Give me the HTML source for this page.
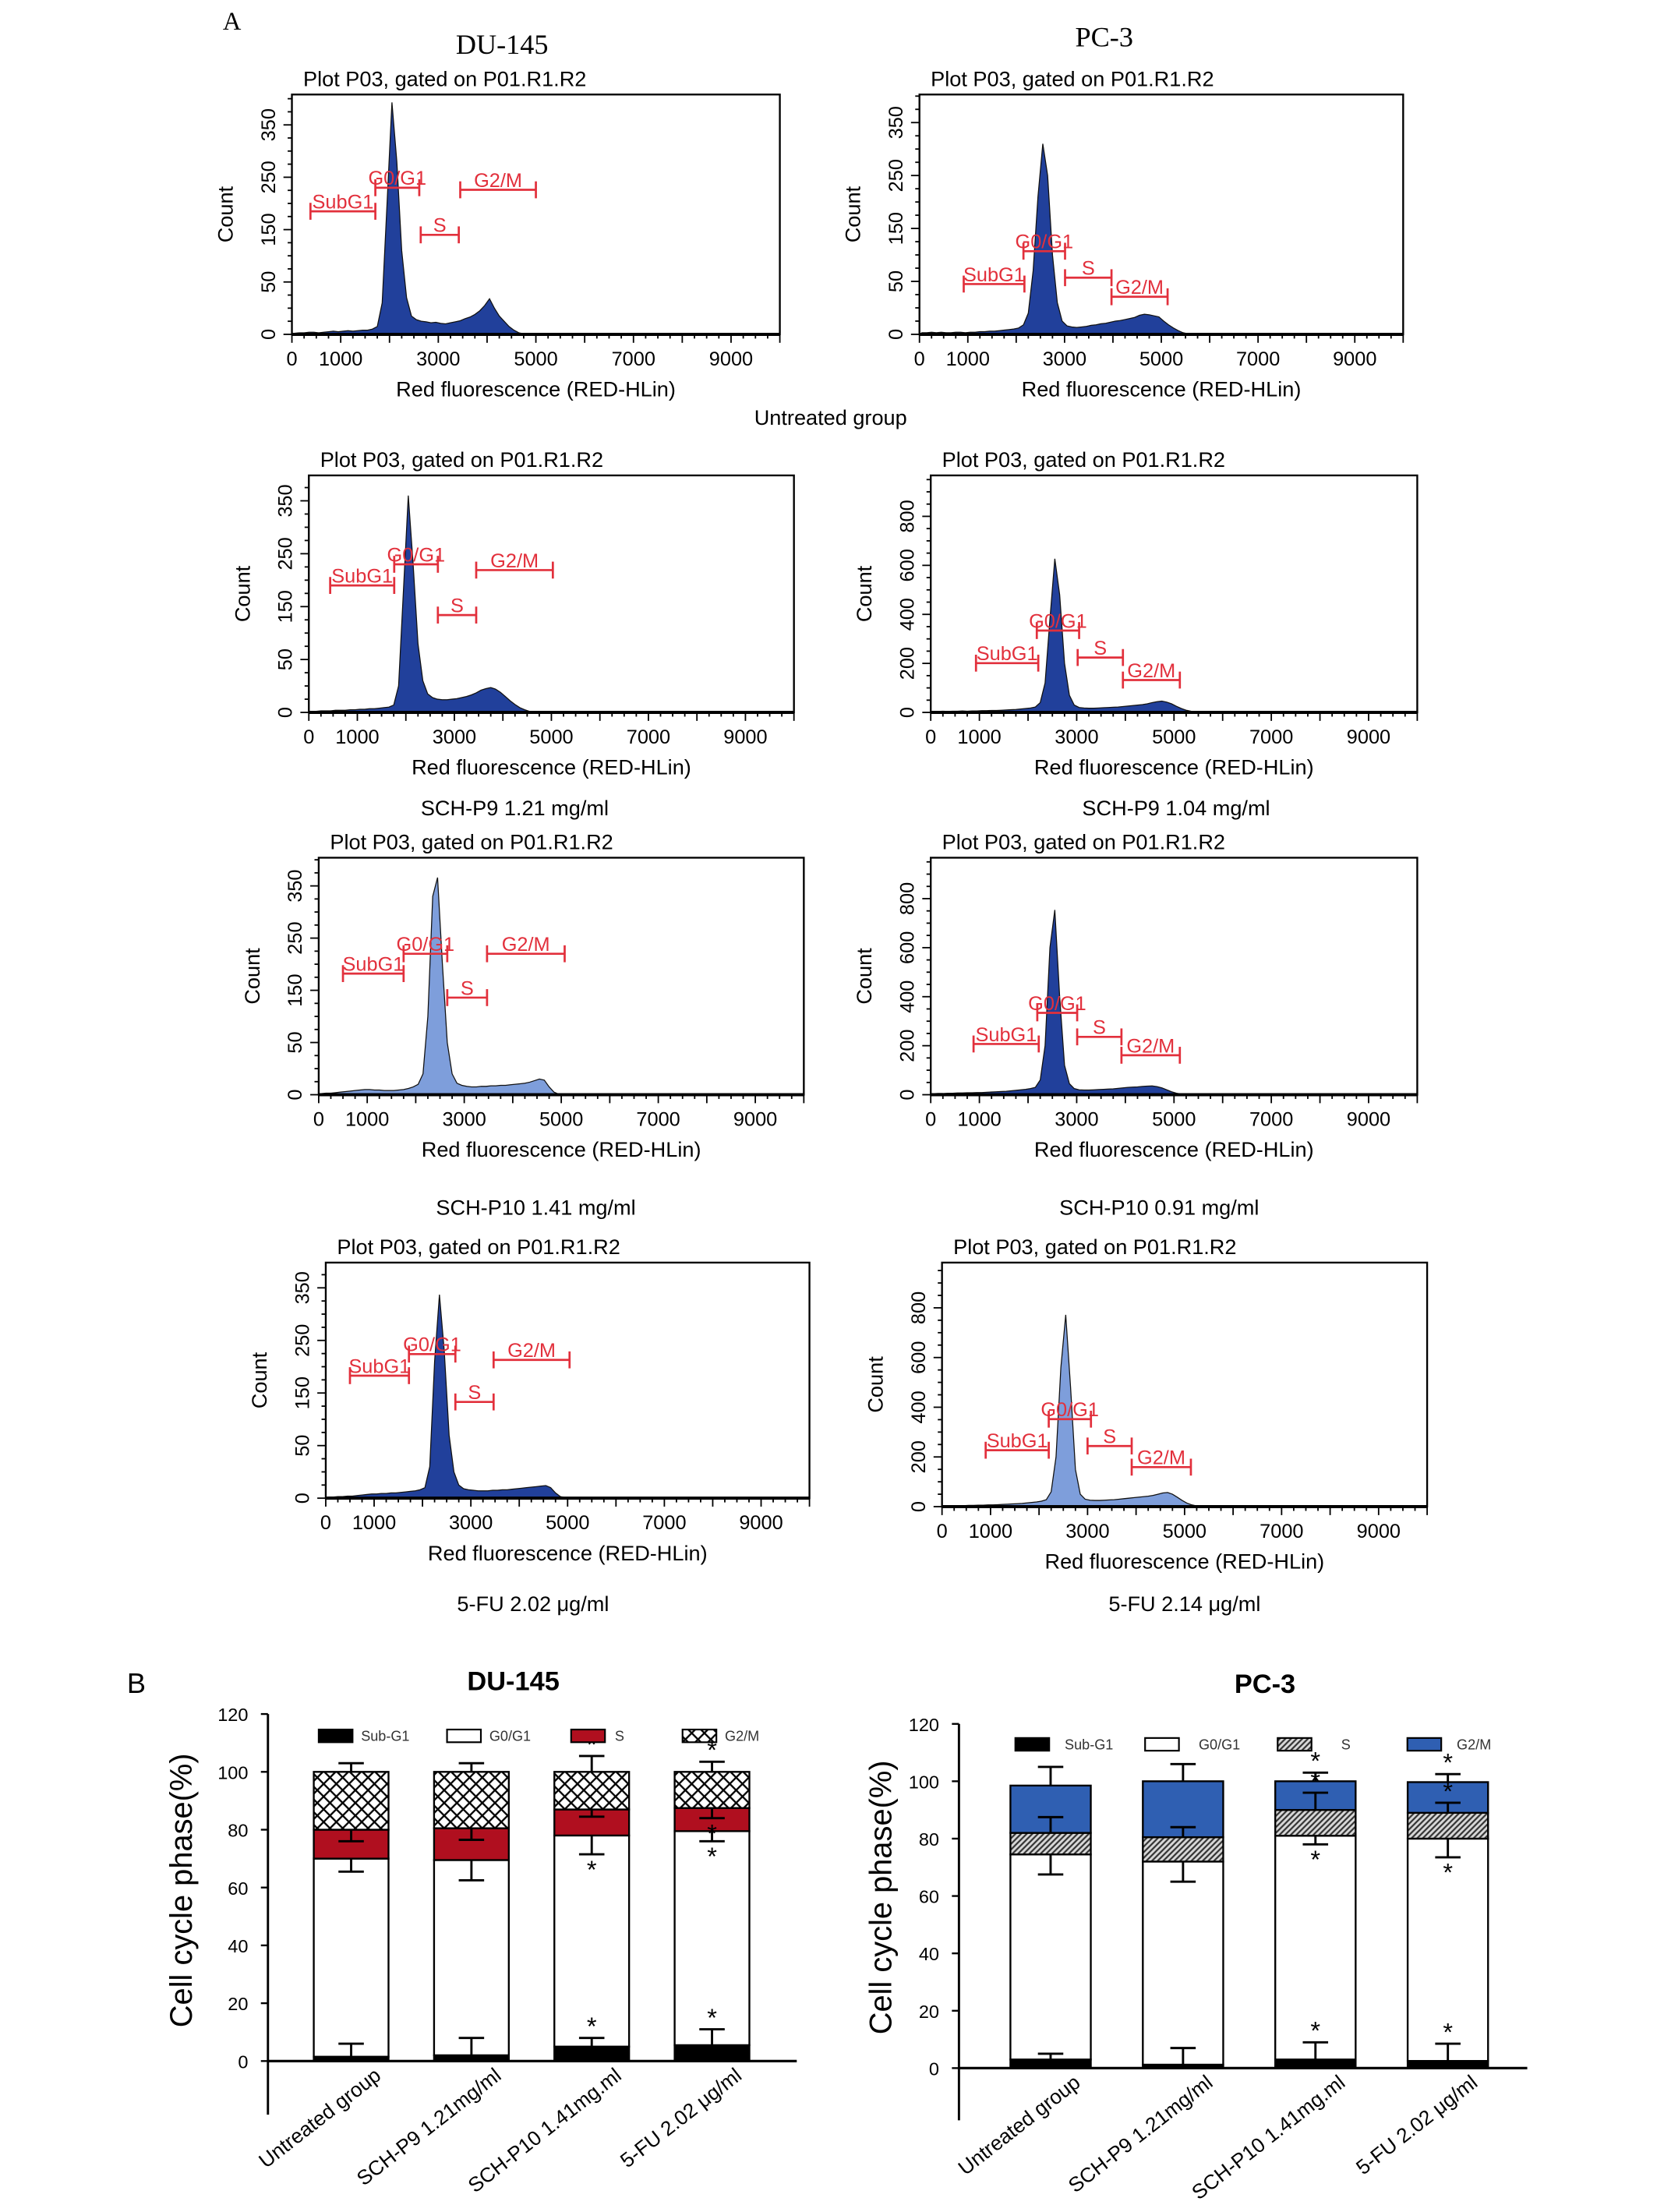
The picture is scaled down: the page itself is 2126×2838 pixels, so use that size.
<!DOCTYPE html>
<html><head><meta charset="utf-8"><style>
html,body{margin:0;padding:0;background:#fff;}
svg{display:block;}
text{font-family:"Liberation Sans",sans-serif;}
</style></head><body>
<svg id="fig" xmlns="http://www.w3.org/2000/svg" width="2126" height="2838" viewBox="0 0 1175 1568" preserveAspectRatio="none">
<defs>
<pattern id="xhatch" patternUnits="userSpaceOnUse" width="9" height="9"><rect width="9" height="9" fill="#fff"/><path d="M0,0L9,9M9,0L0,9" stroke="#000" stroke-width="1.3"/></pattern>
<pattern id="dhatch" patternUnits="userSpaceOnUse" width="4" height="4"><rect width="4" height="4" fill="#d8d8d8"/><path d="M-1,5L5,-1M-1,1L1,-1M3,5L5,3" stroke="#333" stroke-width="1.2"/></pattern>
</defs>
<text x="158" y="21" font-size="18" style="font-family:'Liberation Serif',serif">A</text>
<text x="356" y="38" text-anchor="middle" font-size="20" style="font-family:'Liberation Serif',serif">DU-145</text>
<text x="783" y="33" text-anchor="middle" font-size="20" style="font-family:'Liberation Serif',serif">PC-3</text>
<text x="589" y="301" text-anchor="middle" font-size="15">Untreated group</text>
<text x="365" y="578" text-anchor="middle" font-size="15">SCH-P9 1.21 mg/ml</text>
<text x="834" y="578" text-anchor="middle" font-size="15">SCH-P9 1.04 mg/ml</text>
<text x="380" y="861" text-anchor="middle" font-size="15">SCH-P10 1.41 mg/ml</text>
<text x="822" y="861" text-anchor="middle" font-size="15">SCH-P10 0.91 mg/ml</text>
<text x="378" y="1142" text-anchor="middle" font-size="15">5-FU 2.02 μg/ml</text>
<text x="840" y="1142" text-anchor="middle" font-size="15">5-FU 2.14 μg/ml</text>
<text x="90" y="1200" font-size="20">B</text>
<text x="364" y="1198" text-anchor="middle" font-size="19" font-weight="bold">DU-145</text>
<text x="897" y="1200" text-anchor="middle" font-size="19" font-weight="bold">PC-3</text>
</svg>
<script>
// ---- Histogram data (counts per 100-unit bin, 0..5900) ----
const histDU0 = [2,3,3,4,4,3,4,5,6,5,6,7,6,7,8,8,10,15,60,250,443,330,160,70,35,28,25,24,22,23,21,20,22,24,26,30,33,38,45,55,68,50,35,25,15,8,3,1,0,0,0,0,0,0,0,0,0,0,0,0];
const histPC0 = [3,3,4,3,4,3,3,4,4,3,4,4,5,5,6,6,7,8,9,10,12,18,40,120,260,360,300,150,60,25,16,14,13,14,15,17,18,20,21,23,25,26,28,30,32,36,38,37,35,33,25,18,12,7,3,1,0,0,0,0];
const histDU1 = [2,2,3,3,3,4,4,4,5,5,6,6,7,7,8,9,10,14,50,230,410,280,130,60,35,28,25,24,24,25,26,28,30,33,37,42,45,47,44,38,30,22,15,9,5,2,1,0,0,0,0,0,0,0,0,0,0,0,0,0];
const histPC1 = [4,4,5,4,5,5,6,5,6,6,7,7,8,8,9,10,11,12,14,16,18,22,40,120,380,627,480,200,70,30,20,18,17,17,18,19,20,21,22,24,26,28,30,32,35,40,44,46,42,35,25,16,9,5,2,1,0,0,0,0];
const histDU2 = [2,3,3,4,5,6,7,8,9,10,10,9,9,8,8,8,9,10,12,15,20,40,150,380,416,250,100,40,22,18,16,15,15,16,16,17,17,18,18,19,20,21,22,24,27,30,28,15,5,1,0,0,0,0,0,0,0,0,0,0];
const histPC2 = [4,5,5,6,6,7,7,8,8,9,9,10,11,12,13,14,16,18,20,22,25,30,60,200,600,754,400,120,45,25,20,19,19,20,21,22,23,24,26,28,30,31,32,34,35,36,33,28,20,12,6,3,1,0,0,0,0,0,0,0];
const histDU3 = [2,2,3,3,4,4,5,6,7,8,8,9,9,10,10,11,12,13,14,16,20,60,260,387,280,120,50,25,18,16,15,14,14,14,15,15,16,16,17,18,19,20,21,22,23,24,20,10,3,1,0,0,0,0,0,0,0,0,0,0];
const histPC3 = [3,3,4,4,4,5,5,6,6,7,7,8,9,10,11,12,13,15,17,19,22,28,60,200,560,772,480,150,50,30,26,25,25,26,27,28,30,32,34,36,38,40,42,45,50,55,57,50,38,25,14,7,3,0,0,0,0,0,0,0];
// ---- Gates: [label, start, end, level] ----
const gatesDU0 = [["SubG1",380,1710,235],["G0/G1",1710,2610,280],["S",2640,3420,190],["G2/M",3450,5000,276]];
const gatesPC0 = [["SubG1",915,2170,95],["G0/G1",2150,3010,157],["S",3010,3970,107],["G2/M",3970,5130,71]];
const gatesDU1 = [["SubG1",440,1760,240],["G0/G1",1760,2660,280],["S",2660,3450,184],["G2/M",3450,5030,269]];
const gatesPC1 = [["SubG1",930,2210,201],["G0/G1",2180,3050,334],["S",3020,3950,224],["G2/M",3950,5120,132]];
const gatesDU2 = [["SubG1",500,1750,232],["G0/G1",1750,2650,270],["S",2650,3470,186],["G2/M",3470,5070,270]];
const gatesPC2 = [["SubG1",880,2220,207],["G0/G1",2190,3010,334],["S",3010,3920,236],["G2/M",3920,5120,161]];
const gatesDU3 = [["SubG1",500,1720,233],["G0/G1",1720,2680,274],["S",2680,3470,183],["G2/M",3470,5040,263]];
const gatesPC3 = [["SubG1",900,2200,227],["G0/G1",2200,3070,352],["S",3000,3910,244],["G2/M",3910,5130,159]];
// ---- Axis ticks ----
const xTickVals = [0,1000,3000,5000,7000,9000];
const xTickLabels = ["0","1000","3000","5000","7000","9000"];
const yTickValsDU = [0,100,200,300,400];
const yTickLabelsDU = ["0","50","150","250","350"];
const yTickValsPC = [0,200,400,600,800];
const yTickLabelsPC = ["0","200","400","600","800"];

// ---- Bar chart data ----
const barCategories = ["Untreated group","SCH-P9 1.21mg/ml","SCH-P10 1.41mg.ml","5-FU 2.02 μg/ml"];
const barTicks = [0,20,40,60,80,100,120];
const duSub = [1.5,2,5,5.5];
const duG0 = [68.5,67.5,73,74];
const duS = [10,11,9,8];
const duG2 = [20,19.5,13,12.5];
const duErrSub = [4.5,6,3,5.5];
const duErrG0 = [4.5,7,6.5,3.5];
const duErrS = [4,4,2.5,3.5];
const duErrG2 = [3,3,5.5,3.5];
const duStarSub = [0,0,1,1];
const duStarG0 = [0,0,1,1];
const duStarS = [0,0,0,1];
const duStarG2 = [0,0,1,1];
const pcSub = [3,1.2,3,2.5];
const pcG0 = [71.5,70.8,78,77.5];
const pcS = [7.5,8.5,9,9];
const pcG2 = [16.5,19.5,10,10.7];
const pcErrSub = [2,5.8,6,6];
const pcErrG0 = [7,7,3,6.5];
const pcErrS = [5.5,3.5,6,3.5];
const pcErrG2 = [6.5,6,3,2.8];
const pcStarSub = [0,0,1,1];
const pcStarG0 = [0,0,1,1];
const pcStarS = [0,0,1,1];
const pcStarG2 = [0,0,1,1];

const NS = "http://www.w3.org/2000/svg";
const svg = document.getElementById('fig');
function mk(tag, attrs, parent){
  const e = document.createElementNS(NS, tag);
  for (const k in attrs) e.setAttribute(k, attrs[k]);
  (parent||svg).appendChild(e);
  return e;
}

function drawHist(name, box, ymax, data, gates, yVals, yLabels, light){
  const g = mk('g', {});
  
  
  const sx = v => box.x + v / 10000 * box.w;
  const sy = v => box.y + box.h - v / ymax * box.h;
  const y0 = box.y + box.h;
  const t = mk('text', {x: box.x + 8, y: box.y - 6, 'font-size': 15}, g);
  t.textContent = 'Plot P03, gated on P01.R1.R2';
  
  
  let d = 'M' + sx(0) + ',' + y0;
  for (let i = 0; i < data.length; i++) {
    d += ' L' + sx(i * 100 + 50).toFixed(2) + ',' + sy(data[i]).toFixed(2);
  }
  d += ' L' + sx(data.length * 100) + ',' + y0 + ' Z';
  const p = mk('path', {d: d, fill: light ? '#7e9edb' : '#21409b', stroke: '#111', 'stroke-width': 0.7}, g);
  
  
  const r = mk('rect', {x: box.x, y: box.y, width: box.w, height: box.h, fill: 'none', stroke: '#000', 'stroke-width': 1.3}, g);
  
  
  const ax = mk('line', {x1: box.x, y1: y0, x2: box.x + box.w, y2: y0, stroke: '#000', 'stroke-width': 2.2}, g);
  
  
  for (let v = 0; v <= 10000; v += 250) {
    const big = v % 1000 === 0;
    mk('line', {x1: sx(v), y1: y0, x2: sx(v), y2: y0 + (big ? 6 : 3), stroke: '#000', 'stroke-width': 1}, g);
  }
  xTickVals.forEach((v, i) => {
    const tx = mk('text', {x: sx(v), y: y0 + 22, 'font-size': 14, 'text-anchor': 'middle'}, g);
    tx.textContent = xTickLabels[i];
    
    
  });
  const xt = mk('text', {x: box.x + box.w / 2, y: y0 + 44, 'font-size': 15, 'text-anchor': 'middle'}, g);
  xt.textContent = 'Red fluorescence (RED-HLin)';
  
  
  const step = yVals[1] - yVals[0];
  for (let v = 0; v <= ymax; v += step / 4) {
    const big = Math.abs(v % step) < 1e-6;
    mk('line', {x1: box.x, y1: sy(v), x2: box.x - (big ? 6 : 3), y2: sy(v), stroke: '#000', 'stroke-width': 1}, g);
  }
  yVals.forEach((v, i) => {
    const ty = mk('text', {x: 0, y: 0, 'font-size': 14, 'text-anchor': 'middle', transform: 'translate(' + (box.x - 12) + ',' + sy(v) + ') rotate(-90)'}, g);
    ty.textContent = yLabels[i];
    
    
  });
  const yt = mk('text', {x: 0, y: 0, 'font-size': 15, 'text-anchor': 'middle', transform: 'translate(' + (box.x - 42) + ',' + (box.y + box.h / 2) + ') rotate(-90)'}, g);
  yt.textContent = 'Count';
  
  
  gates.forEach(gt => {
    const gy = sy(gt[3]), x1 = sx(gt[1]), x2 = sx(gt[2]);
    const gg = mk('g', {stroke: '#e2303c', 'stroke-width': 1.5}, g);
    
    
    mk('line', {x1: x1, y1: gy, x2: x2, y2: gy}, gg);
    mk('line', {x1: x1, y1: gy - 6, x2: x1, y2: gy + 6}, gg);
    mk('line', {x1: x2, y1: gy - 6, x2: x2, y2: gy + 6}, gg);
    const lt = mk('text', {x: (x1 + x2) / 2, y: gy - 2, 'font-size': 14, 'text-anchor': 'middle', fill: '#e2303c', stroke: 'none'}, gg);
    lt.textContent = gt[0];
    
    
  });
}

drawHist('hist-du145-untreated', {x:207,y:67,w:346,h:170}, 458, histDU0, gatesDU0, yTickValsDU, yTickLabelsDU, false);
drawHist('hist-pc3-untreated', {x:652,y:67,w:343,h:170}, 453, histPC0, gatesPC0, yTickValsDU, yTickLabelsDU, false);
drawHist('hist-du145-schp9', {x:219,y:337,w:344,h:168}, 448, histDU1, gatesDU1, yTickValsDU, yTickLabelsDU, false);
drawHist('hist-pc3-schp9', {x:660,y:337,w:345,h:168}, 967, histPC1, gatesPC1, yTickValsPC, yTickLabelsPC, false);
drawHist('hist-du145-schp10', {x:226,y:608,w:344,h:168}, 454, histDU2, gatesDU2, yTickValsDU, yTickLabelsDU, true);
drawHist('hist-pc3-schp10', {x:660,y:608,w:345,h:168}, 967, histPC2, gatesPC2, yTickValsPC, yTickLabelsPC, false);
drawHist('hist-du145-5fu', {x:231,y:895,w:343,h:167}, 448, histDU3, gatesDU3, yTickValsDU, yTickLabelsDU, false);
drawHist('hist-pc3-5fu', {x:668,y:895,w:344,h:173}, 982, histPC3, gatesPC3, yTickValsPC, yTickLabelsPC, true);

function drawBars(name, c, sub, g0, s, g2, eSub, eG0, eS, eG2, stSub, stG0, stS, stG2, sDir, sFill, g2Fill, legend){
  const g = mk('g', {});
  
  
  const sy = v => c.y0 - v / 120 * (c.y0 - c.y120);
  const cx = i => c.first + i * c.step;
  const ya = mk('line', {x1: c.ax, y1: c.y120, x2: c.ax, y2: c.yEnd, stroke: '#000', 'stroke-width': 1.6}, g);
  
  
  barTicks.forEach(v => {
    mk('line', {x1: c.ax - 5, y1: sy(v), x2: c.ax, y2: sy(v), stroke: '#000', 'stroke-width': 1.3}, g);
    const t = mk('text', {x: c.ax - 14, y: sy(v) + 5, 'font-size': 13, 'text-anchor': 'end'}, g);
    t.textContent = v;
    
    
  });
  const yt = mk('text', {x: 0, y: 0, 'font-size': 22, 'text-anchor': 'middle', transform: 'translate(' + c.titleX + ',' + c.titleY + ') rotate(-90)'}, g);
  yt.textContent = 'Cell cycle phase(%)';
  
  
  const segs = [[sub, '#000'], [g0, '#fff'], [s, sFill], [g2, g2Fill]];
  const segNames = ['sub-g1', 'g0-g1', 's', 'g2-m'];
  const errs = [eSub, eG0, eS, eG2];
  const dirs = [1, -1, sDir, 1];
  const stars = [stSub, stG0, stS, stG2];
  barCategories.forEach((cat, i) => {
    let base = 0;
    const tops = [];
    segs.forEach((sg, k) => {
      const v = sg[0][i];
      const r = mk('rect', {x: cx(i) - c.w / 2, y: sy(base + v), width: c.w, height: sy(base) - sy(base + v), fill: sg[1], stroke: '#000', 'stroke-width': 1.3}, g);
      
      
      base += v;
      tops.push(base);
    });
    tops.forEach((top, k) => {
      const end = top + dirs[k] * errs[k][i];
      const e = mk('g', {stroke: '#000', 'stroke-width': 1.6}, g);
      
      
      mk('line', {x1: cx(i), y1: sy(top), x2: cx(i), y2: sy(end)}, e);
      mk('line', {x1: cx(i) - 9, y1: sy(end), x2: cx(i) + 9, y2: sy(end)}, e);
      if (stars[k][i]) {
        const st = mk('text', {x: cx(i), y: dirs[k] > 0 ? sy(end) - 2 : sy(end) + 17, 'font-size': 18, 'text-anchor': 'middle', stroke: 'none'}, e);
        st.textContent = '*';
        
        
      }
    });
    const lx = mk('text', {x: 0, y: 0, 'font-size': 14.5, 'text-anchor': 'end', transform: 'translate(' + (cx(i) + 22) + ',' + (c.y0 + 12) + ') rotate(-38)'}, g);
    lx.textContent = cat;
    
    
  });
  const xa = mk('line', {x1: c.ax, y1: c.y0, x2: c.xEnd, y2: c.y0, stroke: '#000', 'stroke-width': 1.8}, g);
  
  
  legend.forEach(L => {
    const lg = mk('g', {}, g);
    
    
    mk('rect', {x: L[0], y: c.legY - 5, width: 24, height: 9, fill: L[2], stroke: '#000', 'stroke-width': 1.2}, lg);
    const lt = mk('text', {x: L[3], y: c.legY + 3, 'font-size': 10, fill: '#333'}, lg);
    lt.textContent = L[1];
  });
}

drawBars('bar-chart-du145', {ax:190, y0:1461, y120:1215, yEnd:1499, xEnd:565, first:249, step:85.3, w:53, titleX:136, titleY:1340, legY:1231},
  duSub, duG0, duS, duG2, duErrSub, duErrG0, duErrS, duErrG2, duStarSub, duStarG0, duStarS, duStarG2, -1, '#b00f1f', 'url(#xhatch)',
  [[226,'Sub-G1','#000',256],[317,'G0/G1','#fff',347],[405,'S','#b00f1f',436],[484,'G2/M','url(#xhatch)',514]]);
drawBars('bar-chart-pc3', {ax:680, y0:1466, y120:1222, yEnd:1503, xEnd:1083, first:745, step:93.9, w:57, titleX:632, titleY:1345, legY:1237},
  pcSub, pcG0, pcS, pcG2, pcErrSub, pcErrG0, pcErrS, pcErrG2, pcStarSub, pcStarG0, pcStarS, pcStarG2, 1, 'url(#dhatch)', '#2f5fb2',
  [[720,'Sub-G1','#000',755],[812,'G0/G1','#fff',850],[906,'S','url(#dhatch)',951],[998,'G2/M','#2f5fb2',1033]]);
</script>
</body></html>
